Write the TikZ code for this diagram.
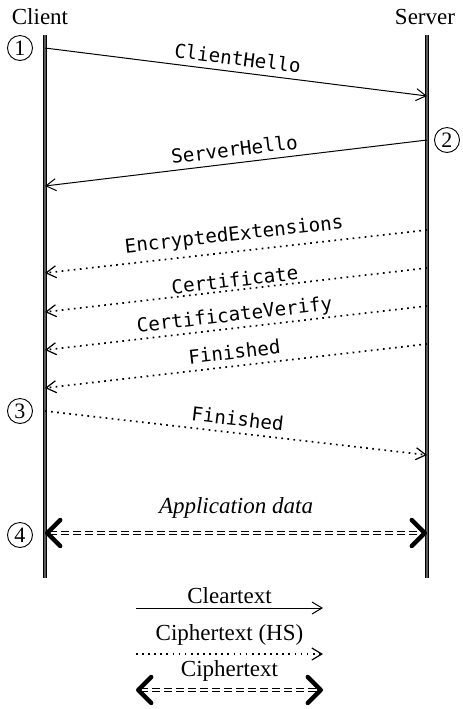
\documentclass[tikz,border=0pt]{standalone}
\usepackage{fontspec}
\setmainfont{Liberation Serif}
\setmonofont{DejaVu Sans Mono}
\usetikzlibrary{arrows.meta}
\tikzset{
  life/.style={draw=black, double=gray!70!black, double distance=1.2pt, line width=0.5pt},
  who/.style={font=\fontsize{11.5}{13}\selectfont, inner sep=0pt},
  num/.style={circle, draw, line width=0.45pt, minimum size=12.5pt, inner sep=0pt, font=\fontsize{11}{12}\selectfont},
  msg/.style={font=\fontsize{9.6}{11}\ttfamily, sloped, above, inner sep=3pt},
  lbl/.style={font=\fontsize{11.5}{13}\selectfont, above, inner sep=2pt},
  clear/.style={line width=0.5pt, -{Straight Barb[length=5pt,width=6pt]}},
  hs/.style={line width=0.85pt, dash pattern=on 0.85pt off 2.2pt, -{Straight Barb[length=5pt,width=6pt,line width=0.6pt]}},
  ciph/.style={double, double distance=0.9pt, line width=0.65pt, dash pattern=on 4pt off 2pt,
     {Straight Barb[length=6.5pt,width=13pt,line width=2.2pt,line cap=round,line join=round]}-{Straight Barb[length=6.5pt,width=13pt,line width=2.2pt,line cap=round,line join=round]}},
}
\begin{document}
\begin{tikzpicture}[x=0.5pt,y=-0.5pt]
\useasboundingbox (0,0) rectangle (462,709);
% lifelines
\coordinate (ctop) at (45,35); \coordinate (cbot) at (45,578);
\coordinate (stop) at (427,35); \coordinate (sbot) at (427,578);
\draw[life] (ctop) -- (cbot);
\draw[life] (stop) -- (sbot);
\node[who] (client) at (40,17) {Client};
\node[who] (server) at (425,17) {Server};
% numbers
\node[num] (n1) at (20,48) {1};
\node[num] (n2) at (447,140) {2};
\node[num] (n3) at (20,411) {3};
\node[num] (n4) at (20,535) {4};
% message end points
\coordinate (c1) at (45,48);   \coordinate (s1) at (427,96);
\coordinate (s2) at (427,140); \coordinate (c2) at (45,186);
\coordinate (s3) at (427,230); \coordinate (c3) at (45,273);
\coordinate (s4) at (427,268); \coordinate (c4) at (45,312);
\coordinate (s5) at (427,306); \coordinate (c5) at (45,350);
\coordinate (s6) at (427,344); \coordinate (c6) at (45,388);
\coordinate (c7) at (45,411);  \coordinate (s7) at (427,455);
\coordinate (c8) at (45,533);  \coordinate (s8) at (427,533);
\draw[clear] (c1) -- node[msg] (m1) {ClientHello} (s1);
\draw[clear] (s2) -- node[msg] (m2) {ServerHello} (c2);
\draw[hs] (s3) -- node[msg] (m3) {EncryptedExtensions} (c3);
\draw[hs] (s4) -- node[msg, inner sep=1pt] (m4) {Certificate} (c4);
\draw[hs] (s5) -- node[msg, inner sep=1pt] (m5) {CertificateVerify} (c5);
\draw[hs] (s6) -- node[msg] (m6) {Finished} (c6);
\draw[hs] (c7) -- node[msg] (m7) {Finished} (s7);
\draw[ciph] (c8) -- node[lbl, inner sep=7pt] (m8) {\itshape Application data} (s8);
% legend
\coordinate (l1a) at (136,608); \coordinate (l1b) at (323,608);
\coordinate (l2a) at (136,654); \coordinate (l2b) at (323,654);
\coordinate (l3a) at (136,690); \coordinate (l3b) at (323,690);
\draw[clear] (l1a) -- node[lbl] (t1) {Cleartext} (l1b);
\draw[hs] (l2a) -- node[lbl, inner sep=4pt] (t2) {Ciphertext (HS)} (l2b);
\draw[ciph] (l3a) -- node[lbl, inner sep=4pt] (t3) {Ciphertext} (l3b);
\end{tikzpicture}
\end{document}
